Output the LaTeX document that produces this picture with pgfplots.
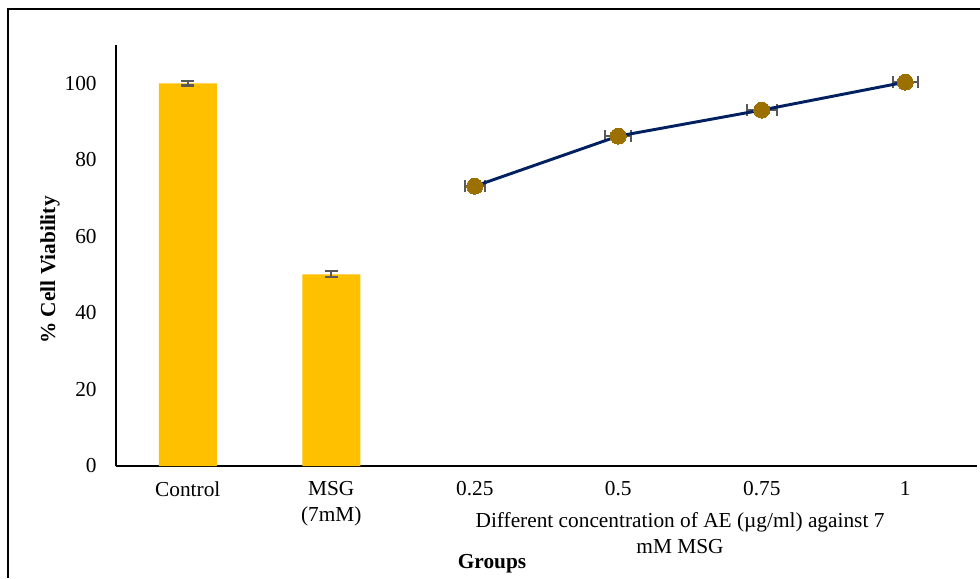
\documentclass[border=0pt]{standalone}
\usepackage{pgfplots}
\pgfplotsset{compat=1.18}
\usepackage{fontspec}
\setmainfont{Liberation Serif}
\definecolor{bargold}{HTML}{FFC000}
\definecolor{navy}{HTML}{002060}
\definecolor{mkgold}{HTML}{9C7000}
\definecolor{errgray}{HTML}{595959}
\begin{document}
\begin{tikzpicture}[x=0.75pt,y=0.75pt]
\useasboundingbox (0,0) rectangle (980,578);
\draw[line width=1.5pt,black] (8,0) -- (8,569) -- (980,569);
\begin{axis}[
  at={(87pt,84pt)}, anchor=south west,
  scale only axis, width=645.75pt, height=315.75pt,
  xmin=-0.5, xmax=5.5, ymin=0, ymax=110,
  axis x line=bottom, axis y line=left,
  axis line style={-, line width=1.3pt, black},
  major tick length=0pt,
  ytick={0,20,40,60,80,100},
  xtick={0,1,2,3,4,5},
  xticklabels={Control,{MSG\\(7mM)},0.25,0.5,0.75,1},
  tick label style={font=\fontsize{16}{19.5}\selectfont},
  xticklabel style={align=center, yshift=-8pt},
  yticklabel style={xshift=-11pt},
  /pgf/number format/assume math mode=true,
  clip=false,
]
\addplot[ybar, bar width=43.5pt, bar shift=0pt, fill=bargold, draw=none,
  error bars/.cd, y dir=both, y explicit,
  error bar style={errgray, line width=1.6pt},
  error mark options={draw=errgray, line width=1.6pt, mark size=5pt, rotate=90}]
  coordinates {(0,100) +- (0,0.6) (1,50.1) +- (0,0.8)};
\addplot[errgray, only marks, mark=none, forget plot,
  error bars/.cd, x dir=both, x explicit, error mark=|,
  error bar style={errgray, line width=1.6pt},
  error mark options={draw=errgray, line width=1.6pt, mark size=4.5pt}]
  coordinates {(2,73.1) +- (0.07,0) (3,86.2) +- (0.09,0) (4,93.0) +- (0.105,0) (5,100.3) +- (0.087,0)};
\addplot[navy, line width=2.2pt, mark=*, mark size=6pt,
  mark options={fill=mkgold, draw=mkgold, line width=0pt}]
  coordinates {(2,73.1) (3,86.2) (4,93.0) (5,100.3)};
\end{axis}
\node[rotate=90, font=\bfseries\fontsize{16}{19}\selectfont] at (50,308) {\% Cell Viability};
\node[align=center, font=\fontsize{16}{19.5}\selectfont] at (680,45) {Different concentration of AE (µg/ml) against 7\\mM MSG};
\node[font=\bfseries\fontsize{16}{19}\selectfont] at (492,14) {Groups};
\end{tikzpicture}
\end{document}
